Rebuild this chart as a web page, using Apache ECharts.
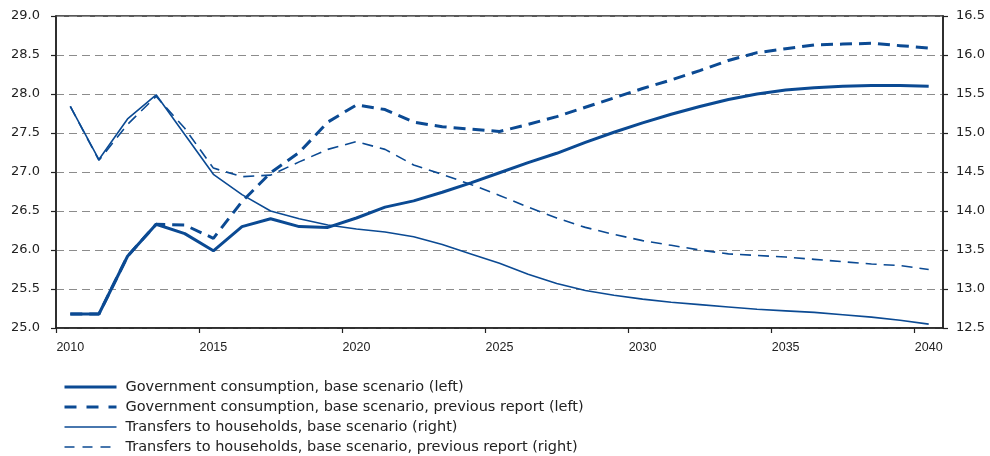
<!DOCTYPE html>
<html>
<head>
<meta charset="utf-8">
<script src="https://cdn.jsdelivr.net/npm/echarts@6/dist/echarts.min.js"></script>
<style>
html,body{margin:0;padding:0;background:#fff;}
#c{width:990px;height:456px;}
</style>
</head>
<body>
<div id="c"></div>
<script>
var years = [2010,2011,2012,2013,2014,2015,2016,2017,2018,2019,2020,2021,2022,2023,2024,2025,2026,2027,2028,2029,2030,2031,2032,2033,2034,2035,2036,2037,2038,2039,2040];
var xTickLabels = [2010,2015,2020,2025,2030,2035,2040];

var govBase = [25.18,25.18,25.92,26.33,26.21,25.99,26.30,26.40,26.30,26.29,26.41,26.55,26.63,26.74,26.86,26.99,27.12,27.24,27.38,27.51,27.63,27.74,27.84,27.93,28.00,28.05,28.08,28.10,28.11,28.11,28.10];
var govPrev = [25.18,25.18,25.92,26.33,26.32,26.15,26.62,26.99,27.25,27.64,27.86,27.80,27.64,27.58,27.55,27.52,27.61,27.71,27.83,27.95,28.07,28.18,28.30,28.43,28.53,28.58,28.63,28.64,28.65,28.62,28.59];
var transBase = [15.34,14.66,15.18,15.49,14.98,14.47,14.21,14.00,13.90,13.82,13.77,13.73,13.67,13.57,13.45,13.33,13.19,13.07,12.98,12.92,12.87,12.83,12.80,12.77,12.74,12.72,12.70,12.67,12.64,12.60,12.55];
var transPrev = [15.34,14.65,15.11,15.47,15.06,14.55,14.44,14.46,14.63,14.79,14.89,14.79,14.59,14.47,14.34,14.20,14.05,13.91,13.79,13.70,13.62,13.56,13.50,13.45,13.43,13.41,13.38,13.35,13.32,13.30,13.25];

var names = [
  'Government consumption, base scenario (left)',
  'Government consumption, base scenario, previous report (left)',
  'Transfers to households, base scenario (right)',
  'Transfers to households, base scenario, previous report (right)'
];

function pts(vals){
  // annual values plotted at mid-year
  return years.map(function(y,i){ return [y + 0.5, vals[i]]; });
}

var col = '#0b4a93';
var font = 'DejaVu Sans';
var styles = [
  {width:3, type:'solid'},
  {width:3, type:[12,7]},
  {width:1.6, type:'solid'},
  {width:1.6, type:[11,7]}
];

var chart = echarts.init(document.getElementById('c'), null, {renderer:'canvas'});
chart.setOption({
  animation:false,
  backgroundColor:'#fff',
  textStyle:{fontFamily:font},
  grid:{left:56,right:47,top:16,bottom:128,show:true,borderColor:'#222',borderWidth:1.5,backgroundColor:'transparent'},
  legend:{
    orient:'vertical',left:63,top:379,padding:0,height:77,
    itemWidth:52,itemHeight:16,itemGap:4,
    itemStyle:{opacity:0},
    textStyle:{fontFamily:font,fontSize:14.5,lineHeight:16,color:'#222',padding:[0,0,0,4]},
    data:names.map(function(n,i){
      return {name:n, lineStyle:{color:col,width:styles[i].width,
        type:(i===1?[12,10]:(i===3?[10,8]:'solid'))}};
    })
  },
  xAxis:{
    type:'value',min:2010,max:2041,
    axisLine:{show:true,lineStyle:{color:'#222',width:1.5}},
    axisTick:{show:true,length:5,lineStyle:{color:'#222',width:1.2},customValues:xTickLabels},
    axisLabel:{fontFamily:'Liberation Sans',fontSize:12.5,color:'#222',margin:13,
      customValues:xTickLabels.map(function(v){return v+0.5;}),
      formatter:function(v){return String(Math.floor(v));}},
    splitLine:{show:false}
  },
  yAxis:[{
    type:'value',min:25,max:29,interval:0.5,position:'left',
    axisLine:{show:true,lineStyle:{color:'#222',width:1.5}},
    axisTick:{show:true,length:5,lineStyle:{color:'#222',width:1.2}},
    axisLabel:{fontFamily:font,fontSize:13,color:'#222',margin:16,formatter:function(v){return v.toFixed(1);}},
    splitLine:{show:true,lineStyle:{color:'#8c8c8c',width:1.2,type:[8,5]}}
  },{
    type:'value',min:12.5,max:16.5,interval:0.5,position:'right',
    axisLine:{show:true,lineStyle:{color:'#222',width:1.5}},
    axisTick:{show:true,length:5,lineStyle:{color:'#222',width:1.2}},
    axisLabel:{fontFamily:font,fontSize:13,color:'#222',margin:13,formatter:function(v){return v.toFixed(1);}},
    splitLine:{show:false}
  }],
  series:[
    {name:names[0],type:'line',yAxisIndex:0,data:pts(govBase),symbol:'none',z:4,
     lineStyle:{color:col,width:styles[0].width,type:styles[0].type},itemStyle:{color:col}},
    {name:names[1],type:'line',yAxisIndex:0,data:pts(govPrev),symbol:'none',z:3,
     lineStyle:{color:col,width:styles[1].width,type:styles[1].type},itemStyle:{color:col}},
    {name:names[2],type:'line',yAxisIndex:1,data:pts(transBase),symbol:'none',z:4,
     lineStyle:{color:col,width:styles[2].width,type:styles[2].type},itemStyle:{color:col}},
    {name:names[3],type:'line',yAxisIndex:1,data:pts(transPrev),symbol:'none',z:3,
     lineStyle:{color:col,width:styles[3].width,type:styles[3].type},itemStyle:{color:col}}
  ]
});
</script>
</body>
</html>
